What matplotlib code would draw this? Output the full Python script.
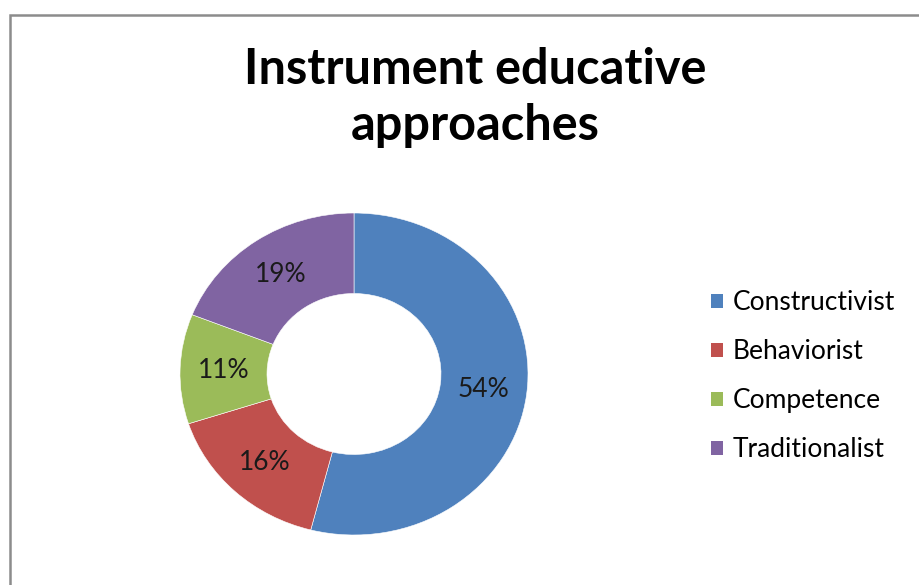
import matplotlib
matplotlib.use("Agg")
import matplotlib.pyplot as plt
from matplotlib.patches import Rectangle, Patch

categories = ["Constructivist", "Behaviorist", "Competence", "Traditionalist"]
values = [54, 16, 11, 19]
colors = ["#4F81BD", "#C0504D", "#9BBB59", "#8064A2"]
title_lines = ["Instrument educative", "approaches"]

plt.rcParams['font.family'] = ['Lato', 'DejaVu Sans']

W, H = 919, 585
fig = plt.figure(figsize=(W / 100, H / 100), dpi=100)
fig.patch.set_facecolor("white")

# border (cropped on right and bottom)
fig.add_artist(Rectangle((9.5 / W, -0.2), 1.5, 1.2 - 15 / H,
                         transform=fig.transFigure, fill=False,
                         edgecolor="#8c8c8c", lw=1.8))

cx, cy = 354, 374
rx, ry = 174, 161
ax = fig.add_axes([(cx - rx) / W, (H - cy - ry) / H, 2 * rx / W, 2 * ry / H])
wedges, texts, autotexts = ax.pie(
    values, colors=colors, startangle=90, counterclock=False,
    radius=1.0, autopct=lambda p: f"{p:.0f}%", pctdistance=0.75,
    wedgeprops=dict(width=0.5, edgecolor="white", linewidth=0.4),
    textprops=dict(fontsize=19, color="#1a1a1a"))
ax.set_aspect("auto")
ax.set_xlim(-1, 1)
ax.set_ylim(-1, 1)
ax.axis("off")

for line, base in zip(title_lines, [84, 140]):
    fig.text(475 / W, 1 - base / H, line, ha="center", va="baseline",
             fontsize=35, fontweight="bold", color="black")

handles = [Patch(facecolor=c, edgecolor="none") for c in colors]
fig.legend(handles, categories, loc="upper left",
           bbox_to_anchor=(711 / W, 1 - 290 / H), frameon=False,
           fontsize=19, handlelength=0.45, handleheight=0.45,
           handletextpad=0.38, labelspacing=0.91, borderaxespad=0,
           borderpad=0)

fig.savefig("out.png", dpi=100)
